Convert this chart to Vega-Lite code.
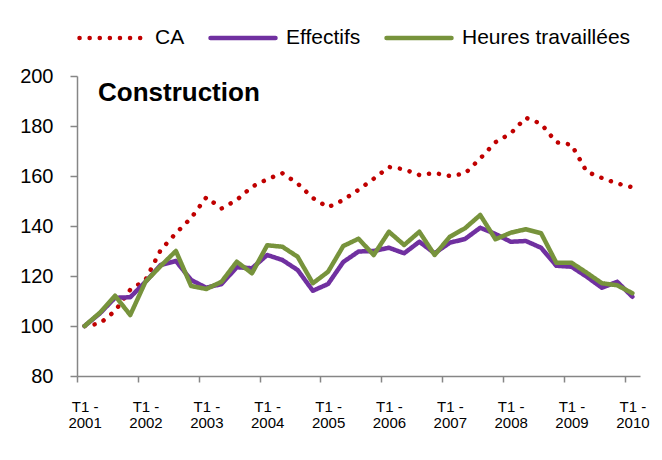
{
  "$schema": "https://vega.github.io/schema/vega-lite/v6.json",
  "width": 563,
  "height": 300,
  "autosize": {"type": "none"},
  "padding": {"left": 77, "top": 76, "right": 22, "bottom": 84},
  "background": "white",
  "config": {"view": {"stroke": null}, "font": "Liberation Sans"},
  "data": {"values": [
    {"i": 0, "CA": 100, "Effectifs": 100, "Heures travaillées": 100},
    {"i": 1, "CA": 101, "Effectifs": 105, "Heures travaillées": 105.3},
    {"i": 2, "CA": 106, "Effectifs": 111.3, "Heures travaillées": 112.1},
    {"i": 3, "CA": 114.5, "Effectifs": 111.5, "Heures travaillées": 104.4},
    {"i": 4, "CA": 118.4, "Effectifs": 117.7, "Heures travaillées": 117.7},
    {"i": 5, "CA": 130.4, "Effectifs": 124.4, "Heures travaillées": 124.0},
    {"i": 6, "CA": 137.1, "Effectifs": 126, "Heures travaillées": 130.0},
    {"i": 7, "CA": 143.2, "Effectifs": 118.4, "Heures travaillées": 116.0},
    {"i": 8, "CA": 151.5, "Effectifs": 115.3, "Heures travaillées": 114.8},
    {"i": 9, "CA": 147, "Effectifs": 116.8, "Heures travaillées": 117.7},
    {"i": 10, "CA": 150.4, "Effectifs": 123.5, "Heures travaillées": 125.7},
    {"i": 11, "CA": 155.7, "Effectifs": 123.1, "Heures travaillées": 121.1},
    {"i": 12, "CA": 158.7, "Effectifs": 128.4, "Heures travaillées": 132.3},
    {"i": 13, "CA": 161.1, "Effectifs": 126.4, "Heures travaillées": 131.7},
    {"i": 14, "CA": 157, "Effectifs": 122.4, "Heures travaillées": 127.7},
    {"i": 15, "CA": 151.2, "Effectifs": 114.1, "Heures travaillées": 117.1},
    {"i": 16, "CA": 147.5, "Effectifs": 116.8, "Heures travaillées": 121.7},
    {"i": 17, "CA": 150.4, "Effectifs": 125.6, "Heures travaillées": 132.0},
    {"i": 18, "CA": 154.5, "Effectifs": 129.8, "Heures travaillées": 134.9},
    {"i": 19, "CA": 158.9, "Effectifs": 130.0, "Heures travaillées": 128.4},
    {"i": 20, "CA": 163.6, "Effectifs": 131.3, "Heures travaillées": 137.7},
    {"i": 21, "CA": 162.7, "Effectifs": 129.1, "Heures travaillées": 132.4},
    {"i": 22, "CA": 160.4, "Effectifs": 133.7, "Heures travaillées": 137.7},
    {"i": 23, "CA": 161.2, "Effectifs": 129.1, "Heures travaillées": 128.4},
    {"i": 24, "CA": 160, "Effectifs": 133.3, "Heures travaillées": 135.7},
    {"i": 25, "CA": 161, "Effectifs": 134.8, "Heures travaillées": 139.1},
    {"i": 26, "CA": 167, "Effectifs": 139.3, "Heures travaillées": 144.4},
    {"i": 27, "CA": 173.5, "Effectifs": 136.8, "Heures travaillées": 134.7},
    {"i": 28, "CA": 177, "Effectifs": 133.7, "Heures travaillées": 137.3},
    {"i": 29, "CA": 183.3, "Effectifs": 134.0, "Heures travaillées": 138.7},
    {"i": 30, "CA": 180.9, "Effectifs": 131.3, "Heures travaillées": 137.1},
    {"i": 31, "CA": 173.5, "Effectifs": 124.1, "Heures travaillées": 125.3},
    {"i": 32, "CA": 172.5, "Effectifs": 123.7, "Heures travaillées": 125.3},
    {"i": 33, "CA": 161.7, "Effectifs": 119.7, "Heures travaillées": 121.3},
    {"i": 34, "CA": 159.2, "Effectifs": 115.3, "Heures travaillées": 117.1},
    {"i": 35, "CA": 157, "Effectifs": 117.7, "Heures travaillées": 116.3},
    {"i": 36, "CA": 155.5, "Effectifs": 111.7, "Heures travaillées": 113.1}
  ]},
  "layer": [
    {
      "transform": [{"fold": ["CA", "Effectifs", "Heures travaillées"], "as": ["serie", "valeur"]}],
      "mark": {"type": "line", "strokeWidth": 4.5, "strokeCap": "round", "strokeJoin": "round"},
      "encoding": {
        "x": {
          "field": "i", "type": "quantitative",
          "scale": {"domain": [-0.5, 36.5], "nice": false, "zero": false},
          "axis": {
            "title": null, "grid": false,
            "values": [0, 4, 8, 12, 16, 20, 24, 28, 32, 36],
            "tickOffset": -7.61, "labelOffset": 7.61,
            "domainColor": "#868686", "domainWidth": 1.5,
            "tickColor": "#868686", "tickWidth": 1.5, "tickSize": 6,
            "labelFontSize": 15, "labelLineHeight": 16, "labelColor": "#000000",
            "labelPadding": 17, "labelAngle": 0, "labelFlush": false, "labelOverlap": false,
            "labelExpr": "['T1 -', '' + (2001 + datum.value / 4)]"
          }
        },
        "y": {
          "field": "valeur", "type": "quantitative",
          "scale": {"domain": [80, 200], "nice": false, "zero": false},
          "axis": {
            "title": null, "grid": false,
            "values": [80, 100, 120, 140, 160, 180, 200],
            "domainColor": "#868686", "domainWidth": 1.5,
            "tickColor": "#868686", "tickWidth": 1.5, "tickSize": 7,
            "labelFontSize": 20, "labelColor": "#000000", "labelPadding": 17
          }
        },
        "color": {
          "field": "serie", "type": "nominal",
          "scale": {"domain": ["CA", "Effectifs", "Heures travaillées"], "range": ["#C00000", "#7030A0", "#77933C"]},
          "legend": {
            "title": null, "orient": "none", "legendX": 0, "legendY": -73,
            "direction": "horizontal", "symbolType": "stroke", "symbolSize": 4225,
            "symbolStrokeWidth": 4.5, "labelFontSize": 21, "labelColor": "#000000",
            "labelOffset": 8, "labelLimit": 0, "columnPadding": 16, "padding": 0,
            "encode": {"symbols": {"update": {"strokeCap": {"value": "round"}}}}
          }
        },
        "strokeDash": {
          "field": "serie", "type": "nominal",
          "scale": {"domain": ["CA", "Effectifs", "Heures travaillées"], "range": [[0.1, 10], [1, 0], [1, 0]]},
          "legend": {
            "title": null, "orient": "none", "legendX": 0, "legendY": -73,
            "direction": "horizontal", "symbolType": "stroke", "symbolSize": 4225,
            "symbolStrokeWidth": 4.5, "labelFontSize": 21, "labelColor": "#000000",
            "labelOffset": 8, "labelLimit": 0, "columnPadding": 16, "padding": 0,
            "encode": {"symbols": {"update": {"strokeCap": {"value": "round"}}}}
          }
        }
      }
    },
    {
      "data": {"values": [{"t": "Construction"}]},
      "mark": {"type": "text", "fontSize": 26, "fontWeight": "bold", "align": "left", "baseline": "alphabetic", "color": "#000000"},
      "encoding": {
        "text": {"field": "t"},
        "x": {"datum": 0.88},
        "y": {"datum": 190.2}
      }
    }
  ]
}
